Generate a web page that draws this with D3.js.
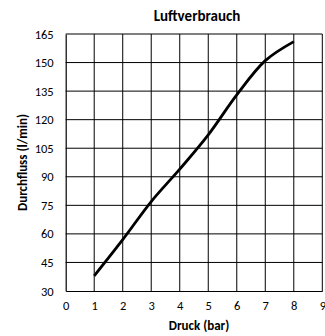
<!DOCTYPE html>
<html>
<head>
<meta charset="utf-8">
<script src="https://cdn.jsdelivr.net/npm/d3@7"></script>
<style>
  html, body { margin: 0; padding: 0; background: #fff; }
  svg { display: block; font-family: Carlito, Calibri, Lato, sans-serif; }
</style>
</head>
<body>
<svg id="chart" width="325" height="336"></svg>
<script>
// Air consumption: flow (l/min) over pressure (bar)
const pressure = [1, 2, 3, 4, 5, 6, 7, 8];
const flow = [38, 57, 77, 94, 112, 133, 151, 161];
const xTicks = [0, 1, 2, 3, 4, 5, 6, 7, 8, 9];
const yTicks = [30, 45, 60, 75, 90, 105, 120, 135, 150, 165];

const titleText = "Luftverbrauch";
const xTitle = "Druck (bar)";
const yTitle = "Durchfluss (l/min)";

const svg = d3.select("#chart");
const margin = { left: 65.7, right: 2.7, top: 34, bottom: 45 };
const W = 325, H = 336;
const font = "Carlito, Calibri, Lato, sans-serif";

const x = d3.scaleLinear().domain([0, 9]).range([margin.left, W - margin.right]);
const y = d3.scaleLinear().domain([30, 165]).range([H - margin.bottom, margin.top]);

// grid
const grid = svg.append("g").attr("stroke", "#000").attr("stroke-width", 1);
grid.selectAll("line.v").data(xTicks.slice(1)).join("line")
  .attr("class", "v")
  .attr("x1", d => x(d)).attr("x2", d => x(d))
  .attr("y1", y(30)).attr("y2", y(165));
grid.selectAll("line.h").data(yTicks.slice(1)).join("line")
  .attr("class", "h")
  .attr("x1", x(0)).attr("x2", x(9))
  .attr("y1", d => y(d)).attr("y2", d => y(d));

// axes
const xAxis = svg.append("g")
  .attr("transform", `translate(0,${y(30)})`)
  .call(d3.axisBottom(x).tickValues(xTicks).tickSize(0).tickPadding(10));
const yAxis = svg.append("g")
  .attr("transform", `translate(${x(0)},0)`)
  .call(d3.axisLeft(y).tickValues(yTicks).tickSize(0).tickPadding(12));
[xAxis, yAxis].forEach(a => {
  a.select(".domain").attr("stroke", "#000").attr("stroke-width", 1.2);
  a.selectAll("text").attr("font-size", 12.5).attr("fill", "#000")
    .attr("font-family", font);
});

// data line
const line = d3.line()
  .x((d, i) => x(pressure[i]))
  .y(d => y(d))
  .curve(d3.curveCatmullRom.alpha(0.5));
svg.append("path")
  .datum(flow)
  .attr("d", line)
  .attr("fill", "none")
  .attr("stroke", "#000")
  .attr("stroke-width", 2.8)
  .attr("stroke-linecap", "butt")
  .attr("stroke-linejoin", "round");

// titles
const cx = (x(0) + x(9)) / 2;
svg.append("text")
  .attr("x", cx + 3).attr("y", 21)
  .attr("text-anchor", "middle")
  .attr("font-size", 15).attr("font-weight", "bold")
  .text(titleText);
svg.append("text")
  .attr("x", cx + 5).attr("y", 330)
  .attr("text-anchor", "middle")
  .attr("font-size", 13).attr("font-weight", "bold")
  .text(xTitle);
svg.append("text")
  .attr("transform", `translate(26.5,${(y(30) + y(165)) / 2}) rotate(-90)`)
  .attr("text-anchor", "middle")
  .attr("font-size", 13).attr("font-weight", "bold")
  .text(yTitle);
</script>
</body>
</html>
